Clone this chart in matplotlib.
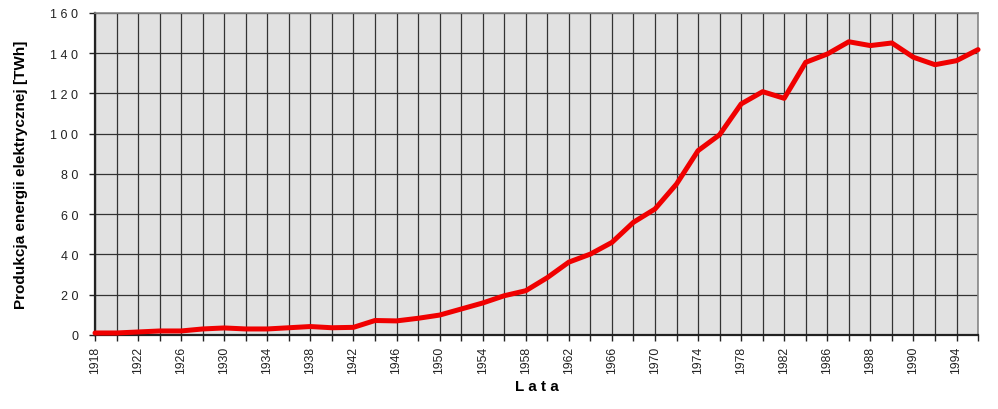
import matplotlib
matplotlib.use("Agg")
import matplotlib.pyplot as plt

plt.rcParams['font.family'] = ['Liberation Sans', 'DejaVu Sans']

# kategorie osi X (lata) i produkcja energii elektrycznej [TWh]
lata = [1918, 1920, 1922, 1924, 1926, 1928, 1930, 1932, 1934, 1936,
        1938, 1940, 1942, 1944, 1946, 1948, 1950, 1952, 1954, 1956,
        1958, 1960, 1962, 1964, 1966, 1968, 1970, 1972, 1974, 1976,
        1978, 1980, 1982, 1984, 1986, 1987, 1988, 1989, 1990, 1992,
        1994, 1996]
produkcja = [1.0, 1.0, 1.5, 2.0, 2.0, 3.0, 3.5, 3.0, 3.0, 3.6,
             4.2, 3.6, 3.8, 7.2, 7.0, 8.3, 9.9, 12.9, 15.9, 19.5,
             22.0, 28.5, 36.2, 40.2, 46.0, 56.0, 62.6, 75.0, 91.6, 99.5,
             114.8, 120.9, 117.6, 135.5, 139.6, 145.7, 143.8, 145.1, 138.0, 134.3,
             136.3, 141.8]
y_ticks = [0, 20, 40, 60, 80, 100, 120, 140, 160]

fig = plt.figure(figsize=(9.98, 4.10), dpi=100)
ax = fig.add_axes([0.0952, 0.1805, 0.8848, 0.7854])

pos = list(range(len(lata)))
ax.plot(pos, produkcja, color='#f00000', lw=3.6, solid_joinstyle='round',
        solid_capstyle='round', zorder=3, clip_on=False)

ax.set_facecolor('#e1e1e1')
ax.set_xlim(0, len(lata) - 1)
ax.set_ylim(0, 160)

ax.set_xticks(pos)
ax.set_xticklabels([str(r) if i % 2 == 0 else '' for i, r in enumerate(lata)],
                   rotation=90, fontsize=8.8)
ax.set_yticks(y_ticks)
ax.set_yticklabels([' '.join(str(v)) for v in y_ticks], fontsize=9)

ax.grid(True, color='#333333', lw=0.9)
ax.set_axisbelow(True)
ax.tick_params(axis='y', length=4, width=1, pad=8, colors='#222222')
ax.tick_params(axis='x', length=4, width=1, pad=4, colors='#222222')

for s in ['top', 'right']:
    ax.spines[s].set_color('#888888')
    ax.spines[s].set_linewidth(1.2)
for s in ['left', 'bottom']:
    ax.spines[s].set_color('#222222')
    ax.spines[s].set_linewidth(1.6)

ax.set_xlabel('L a t a', fontsize=11, fontweight='bold', labelpad=4)
ax.set_ylabel('Produkcja energii elektrycznej [TWh]', fontsize=11,
              fontweight='bold', labelpad=16)

fig.savefig('out.png', dpi=100)
